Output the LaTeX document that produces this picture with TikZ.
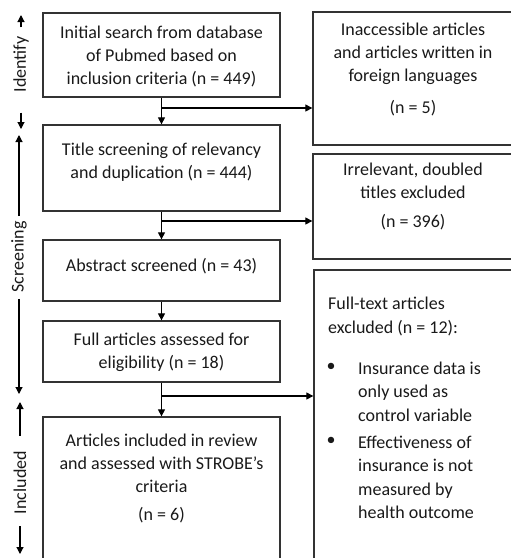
\documentclass[tikz,border=0pt]{standalone}
\usepackage{fontspec}
\setmainfont{Carlito}
\usetikzlibrary{arrows.meta,calc}
\begin{document}
\begin{tikzpicture}[x=1pt,y=-1pt,
  box/.style={draw=black!80,line width=1.3pt,inner sep=0pt},
  txt/.style={font=\fontsize{18}{23}\selectfont,align=center,inner sep=0pt,text=black!90},
  ltxt/.style={font=\fontsize{18}{23.5}\selectfont,align=left,inner sep=0pt,anchor=west,text=black!90},
  flow/.style={line width=1.1pt,-{Triangle[length=7pt,width=7pt]}},
  phase/.style={font=\fontsize{18}{22}\selectfont,rotate=90,inner sep=0pt,text=black!90}]
\useasboundingbox (0,0) rectangle (511,558);
% main boxes
\node[box,minimum width=237pt,minimum height=84pt] (b1) at (161.5,55) {};
\node[box,minimum width=237pt,minimum height=86pt] (b2) at (161.5,168) {};
\node[box,minimum width=237pt,minimum height=61pt] (b3) at (161.5,270.5) {};
\node[box,minimum width=237pt,minimum height=61pt] (b4) at (161.5,351.5) {};
\node[box,minimum width=237pt,minimum height=148pt] (b5) at (161.5,491) {};
% right boxes
\node[box,minimum width=201pt,minimum height=133pt] (r1) at (413.5,78.5) {};
\node[box,minimum width=201pt,minimum height=105pt] (r2) at (413.5,206.5) {};
\node[box,minimum width=200pt,minimum height=295pt] (r3) at (414,417.5) {};
% texts
\node[txt] (t1) at (161.5,56) {Initial search from database\\of Pubmed based on\\inclusion criteria (n = 449)};
\node[txt] (t2) at (161.5,162) {Title screening of relevancy\\and duplication (n = 444)};
\node[txt] (t3) at (161.5,266) {Abstract screened (n = 43)};
\node[txt] (t4) at (161.5,352) {Full articles assessed for\\eligibility (n = 18)};
\node[txt] (t5) at (161.5,478) {Articles included in review\\and assessed with STROBE’s\\criteria\\[5pt](n = 6)};
\node[txt] (u1) at (413,69.5) {Inaccessible articles\\and articles written in\\foreign languages\\[9pt](n = 5)};
\node[txt] (u2) at (413,196) {Irrelevant, doubled\\titles excluded\\[6pt](n = 396)};
\node[ltxt] (u3) at (328,316.5) {Full-text articles\\excluded (n = 12):};
\node[txt,anchor=center] (bl1) at (331,367) {•};
\node[txt,anchor=center] (bl2) at (331,441) {•};
\node[ltxt] (u4) at (358,391.5) {Insurance data is\\only used as\\control variable};
\node[ltxt] (u5) at (358,477.5) {Effectiveness of\\insurance is not\\measured by\\health outcome};
% flow arrows
\draw[flow] (b1) -- (b2);
\draw[flow] (b2) -- (b3);
\draw[flow] (b3) -- (b4);
\draw[flow] (b4) -- (b5);
\coordinate (j1) at (162,108);
\coordinate (j2) at (162,221);
\coordinate (j3) at (162,396);
\draw[flow] (j1) -- (j1 -| r1.west);
\draw[flow] (j2) -- (j2 -| r2.west);
\draw[flow] (j3) -- (j3 -| r3.west);
% phase labels
\node[phase] (pi) at (21,64.5) {Identify};
\node[phase] (ps) at (19,257) {Screening};
\node[phase] (pn) at (20,482.5) {Included};
\coordinate (ia) at (21,15);
\coordinate (ib) at (21,129);
\coordinate (sa) at (19,135);
\coordinate (sb) at (19,394);
\coordinate (na) at (20,402);
\coordinate (nb) at (20,554);
\draw[flow] ($(pi.east)+(0,-9)$) -- (ia);
\draw[flow] ($(pi.west)+(0,20)$) -- (ib);
\draw[flow] ($(ps.east)+(0,-5)$) -- (sa);
\draw[flow] ($(ps.west)+(0,6)$) -- (sb);
\draw[flow] ($(pn.east)+(0,-15)$) -- (na);
\draw[flow] ($(pn.west)+(0,12)$) -- (nb);
\end{tikzpicture}
\end{document}
